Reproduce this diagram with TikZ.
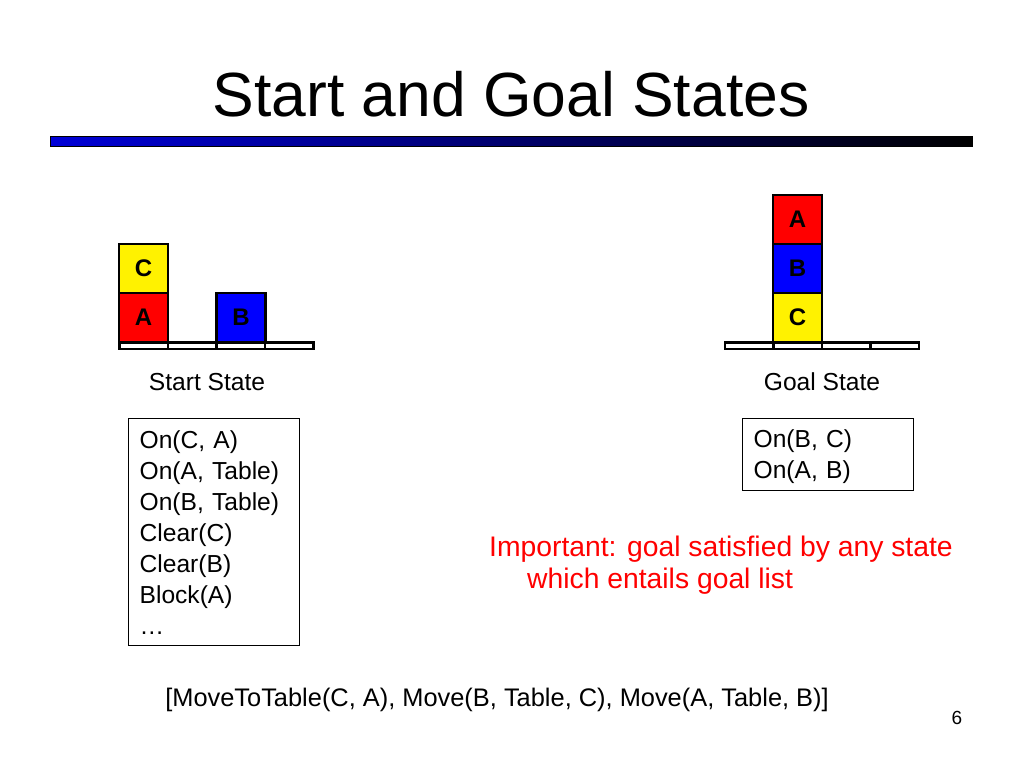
\documentclass[tikz,border=0pt]{standalone}
\usepackage{fontspec}
\setmainfont{Liberation Sans}
\usetikzlibrary{positioning}

\begin{document}
\begin{tikzpicture}[x=1pt,y=-1pt,
 blk/.style={draw,line width=2.5pt,minimum width=49pt,minimum height=49pt,inner sep=0pt,outer sep=0pt,font=\fontsize{24}{24}\selectfont\bfseries},
 seg/.style={draw,line width=2.5pt,minimum width=48.5pt,minimum height=6.5pt,inner sep=0pt,outer sep=0pt},
 facts/.style={draw,line width=1.3pt,align=left,anchor=north west,inner xsep=11pt,font=\fontsize{24.6}{31}\selectfont},
 caption/.style={anchor=base,font=\fontsize{24.6}{30}\selectfont}]
\useasboundingbox (0,0) rectangle (1024,768);

\node[anchor=base,font=\fontsize{62.4}{70}\selectfont] (title) at (511,116) {Start and Goal States};
\shade[left color={rgb,255:red,0;green,0;blue,215},right color=black,draw=black,line width=.8pt] (50,136) rectangle (972,146);

% start state
\node[blk,fill=red] (sa) at (143.5,317.5) {A};
\node[blk,fill=yellow,above=0pt of sa] (sc) {C};
\node[blk,fill=blue,right=0pt of sa,xshift=48.5pt] (sb) {B};
\foreach \i in {0,...,3}{\node[seg] (st\i) at (143.5+48.5*\i,345.5) {};}
\node[caption] (slabel) at (207,390) {Start State};

% goal state
\node[blk,fill=yellow] (gc) at (797.5,317.5) {C};
\node[blk,fill=blue,above=0pt of gc] (gb) {B};
\node[blk,fill=red,above=0pt of gb] (ga) {A};
\foreach \i in {0,...,3}{\node[seg] (gt\i) at (749+48.5*\i,345.5) {};}
\node[caption] (glabel) at (822,390) {Goal State};

\node[facts,text width=149pt,minimum height=227pt] (slist) at (128,418) {On(C, A)\\On(A, Table)\\On(B, Table)\\Clear(C)\\Clear(B)\\Block(A)\\\ldots};
\node[facts,text width=149pt,minimum height=72pt] (glist) at (742,418) {\rule{0pt}{21pt}On(B, C)\\On(A, B)};

\node[anchor=base west,align=left,text=red,inner sep=0pt,font=\fontsize{28.3}{32}\selectfont] (note) at (489,588) {Important: goal satisfied by any state\\\hspace*{38pt}which entails goal list};

\node[caption,font=\fontsize{25.4}{30}\selectfont] (plan) at (497,706) {[MoveToTable(C, A), Move(B, Table, C), Move(A, Table, B)]};
\node[anchor=base,font=\fontsize{19}{20}\selectfont] (page) at (957,724) {6};
\end{tikzpicture}
\end{document}
